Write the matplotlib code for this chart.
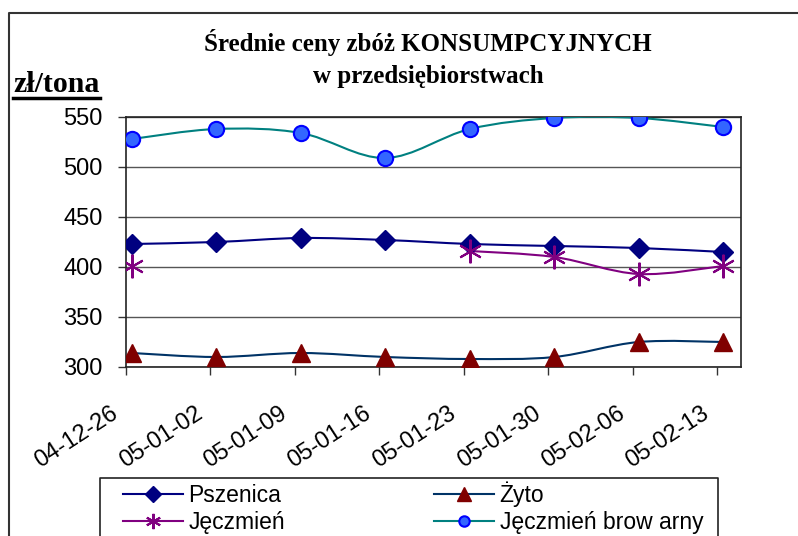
import numpy as np
import matplotlib
matplotlib.use("Agg")
import matplotlib.pyplot as plt
from matplotlib.path import Path
from matplotlib.patches import PathPatch
from matplotlib.lines import Line2D

# data (zł/tona)
dates = ["04-12-26", "05-01-02", "05-01-09", "05-01-16",
         "05-01-23", "05-01-30", "05-02-06", "05-02-13"]
pszenica = [423, 425, 429, 427, 423, 421, 419, 415]
zyto = [314, 310, 314, 310, 308, 310, 325, 325]
jeczmien = [401, np.nan, np.nan, np.nan, 416, 410, 393, 401]
browarny = [528, 538, 534, 509, 538, 549, 549, 540]

SANS = "Liberation Sans"
SERIF = "Liberation Serif"


def smooth_path(x, y):
    # excel-like smoothed line: cubic bezier segments, catmull-rom controls
    x = np.asarray(x, float)
    y = np.asarray(y, float)
    verts = [(x[0], y[0])]
    codes = [Path.MOVETO]
    n = len(x)
    for i in range(n - 1):
        p0 = np.array([x[max(i - 1, 0)], y[max(i - 1, 0)]])
        p1 = np.array([x[i], y[i]])
        p2 = np.array([x[i + 1], y[i + 1]])
        p3 = np.array([x[min(i + 2, n - 1)], y[min(i + 2, n - 1)]])
        c1 = p1 + (p2 - p0) / 6.0
        c2 = p2 - (p3 - p1) / 6.0
        verts += [tuple(c1), tuple(c2), tuple(p2)]
        codes += [Path.CURVE4] * 3
    return Path(verts, codes)


def draw_series(ax, vals, color, **mk):
    xs = np.arange(len(vals))
    vals = np.asarray(vals, float)
    ok = ~np.isnan(vals)
    # split into runs of valid values
    runs, cur = [], []
    for i in range(len(vals)):
        if ok[i]:
            cur.append(i)
        elif cur:
            runs.append(cur)
            cur = []
    if cur:
        runs.append(cur)
    for r in runs:
        if len(r) > 1:
            ax.add_patch(PathPatch(smooth_path(xs[r], vals[r]), fc="none",
                                   ec=color, lw=1.5, zorder=3))
    ax.plot(xs[ok], vals[ok], ls="none", zorder=4, **mk)


fig = plt.figure(figsize=(7.98, 5.36), dpi=100)
ax = fig.add_axes([126 / 798, 1 - 367 / 536, 615 / 798, 250 / 536])

draw_series(ax, pszenica, "#000080", marker="D", ms=10, mfc="#000080", mec="#000080")
draw_series(ax, zyto, "#003366", marker="^", ms=13, mfc="#800000", mec="#800000")
draw_series(ax, jeczmien, "#800080", marker=(6, 2, 0), ms=17, mec="#800080", mew=1.5)
draw_series(ax, browarny, "#008080", marker="o", ms=11, mfc="#3366FF", mec="#0000FF", mew=1.5)

ax.set_yticks([300, 350, 400, 450, 500, 550])
ticks = np.arange(len(dates)) - 0.07
ax.set_xticks(ticks)
ax.set_xticklabels([])
# rotated date labels, hung a bit left of and below each tick
for t, d in zip(ticks, dates):
    ax.annotate(d, xy=(t, 0), xycoords=ax.get_xaxis_transform(),
                xytext=(-11.5, -25.5), textcoords="offset points",
                rotation=33, ha="right", va="top", rotation_mode="anchor",
                fontfamily=SANS, fontsize=17, annotation_clip=False)
ax.set_xlim(-0.07, 7.21)
ax.set_ylim(300, 550)
for lab in ax.get_yticklabels():
    lab.set_fontfamily(SANS)
    lab.set_fontsize(17)
ax.tick_params(axis="y", length=6, width=1, color="#333333", pad=11)
ax.tick_params(axis="x", length=6, width=1, color="#333333")
ax.grid(axis="y", color="#555555", lw=1)
ax.set_axisbelow(True)
for s in ax.spines.values():
    s.set_color("#222222")
    s.set_linewidth(1.2)

# titles
fig.text(428 / 798, 1 - 42 / 536, "Średnie ceny zbóż KONSUMPCYJNYCH",
         ha="center", va="center", fontfamily=SERIF, fontweight="bold", fontsize=18)
fig.text(428 / 798, 1 - 76 / 536, "w przedsiębiorstwach",
         ha="center", va="center", fontfamily=SERIF, fontweight="bold", fontsize=18)
fig.text(13 / 798, 1 - 92 / 536, "zł/tona", ha="left", va="baseline",
         fontfamily=SERIF, fontweight="bold", fontsize=21.5)
fig.add_artist(Line2D([13 / 798, 100 / 798], [1 - 98.5 / 536] * 2,
                      color="black", lw=2.5, transform=fig.transFigure))

# outer chart border
fig.add_artist(Line2D([9 / 798, 9 / 798, 1.0], [0.0, 1 - 13 / 536, 1 - 13 / 536],
                      color="#333333", lw=1.5, transform=fig.transFigure))

# legend box (runs off the bottom of the picture)
fig.add_artist(Line2D([100 / 798, 100 / 798, 718 / 798, 718 / 798],
                      [0.0, 1 - 478 / 536, 1 - 478 / 536, 0.0],
                      color="#222222", lw=1.2, transform=fig.transFigure))

handles = [
    Line2D([], [], color="#000080", lw=1.5, marker="D", ms=8.5, mfc="#000080", mec="#000080"),
    Line2D([], [], color="#800080", lw=1.5, marker=(6, 2, 0), ms=11, mec="#800080", mew=1.5),
    Line2D([], [], color="#003366", lw=1.5, marker="^", ms=10, mfc="#800000", mec="#800000"),
    Line2D([], [], color="#008080", lw=1.5, marker="o", ms=7.5, mfc="#3366FF", mec="#0000FF", mew=1.5),
]
labels = ["Pszenica", "Jęczmień", "Żyto", "Jęczmień brow arny"]
leg = fig.legend(handles, labels, ncol=2, loc="upper left",
                 bbox_to_anchor=(123 / 798, 1 - 481 / 536),
                 frameon=False, prop={"family": SANS, "size": 16.5},
                 handlelength=2.6, handletextpad=0.26, labelspacing=0.2,
                 columnspacing=6.5, borderpad=0, borderaxespad=0)

fig.savefig("out.png", dpi=100)
